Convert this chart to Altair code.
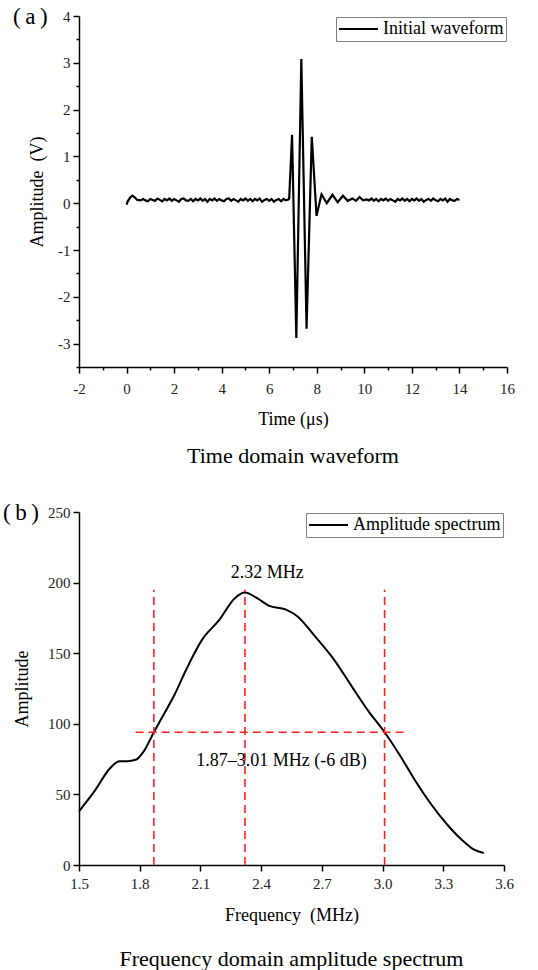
import altair as alt
import pandas as pd

# ---------------- data: time-domain waveform ----------------
wave_t = [
    0.00, 0.05, 0.15, 0.25, 0.35, 0.45,
    0.6, 0.7, 0.8, 0.9, 1.0, 1.1, 1.2, 1.3, 1.4, 1.5, 1.6, 1.7, 1.8, 1.9,
    2.0, 2.1, 2.2, 2.3, 2.4, 2.5, 2.6, 2.7, 2.8, 2.9,
    3.0, 3.1, 3.2, 3.3, 3.4, 3.5, 3.6, 3.7, 3.8, 3.9,
    4.0, 4.1, 4.2, 4.3, 4.4, 4.5, 4.6, 4.7, 4.8, 4.9,
    5.0, 5.1, 5.2, 5.3, 5.4, 5.5, 5.6, 5.7, 5.8, 5.9,
    6.0, 6.1, 6.2, 6.3, 6.4, 6.5, 6.6, 6.7, 6.8,
    6.84, 6.96, 7.14, 7.35, 7.57, 7.79, 7.99,
    8.2, 8.42, 8.66, 8.88, 9.1, 9.3, 9.5, 9.65, 9.8, 9.95, 10.1,
    10.2, 10.3, 10.4, 10.5, 10.6, 10.7, 10.8, 10.9, 11.0, 11.1,
    11.2, 11.3, 11.4, 11.5, 11.6, 11.7, 11.8, 11.9, 12.0, 12.1,
    12.2, 12.3, 12.4, 12.5, 12.6, 12.7, 12.8, 12.9, 13.0, 13.1,
    13.2, 13.3, 13.4, 13.5, 13.6, 13.7, 13.8, 13.9, 14.0,
]
wave_v = [
    -0.03, 0.04, 0.12, 0.16, 0.12, 0.07,
    0.06, 0.09, 0.06, 0.04, 0.09, 0.07, 0.05, 0.10, 0.07, 0.04, 0.09, 0.06, 0.10, 0.05,
    0.09, 0.06, 0.03, 0.09, 0.10, 0.06, 0.05, 0.09, 0.04, 0.09,
    0.06, 0.10, 0.05, 0.09, 0.03, 0.09, 0.06, 0.10, 0.05, 0.09,
    0.06, 0.04, 0.09, 0.10, 0.05, 0.09, 0.06, 0.03, 0.09, 0.06,
    0.10, 0.05, 0.09, 0.04, 0.09, 0.06, 0.10, 0.03, 0.07, 0.09,
    0.05, 0.09, 0.03, 0.07, 0.09, 0.04, 0.09, 0.06, 0.08,
    0.10, 1.46, -2.88, 3.08, -2.68, 1.42, -0.27,
    0.19, 0.00, 0.18, 0.02, 0.16, 0.05, 0.10, 0.05, 0.13, 0.06, 0.08,
    0.06, 0.10, 0.05, 0.09, 0.04, 0.09, 0.06, 0.10, 0.05, 0.09,
    0.06, 0.03, 0.09, 0.06, 0.10, 0.05, 0.09, 0.04, 0.09, 0.06,
    0.10, 0.05, 0.09, 0.03, 0.07, 0.09, 0.05, 0.10, 0.06, 0.04,
    0.09, 0.06, 0.10, 0.03, 0.09, 0.06, 0.05, 0.09, 0.07,
]
wave_name = "Initial waveform"

# ---------------- data: amplitude spectrum ----------------
freq = [1.50, 1.58, 1.65, 1.70, 1.74, 1.78, 1.82, 1.87, 1.92, 1.97, 2.03, 2.11,
        2.19, 2.27, 2.32, 2.38, 2.44, 2.52, 2.58, 2.66, 2.76, 2.85, 2.93, 3.01,
        3.08, 3.16, 3.24, 3.32, 3.39, 3.45, 3.50]
amp = [38, 53, 68, 73.5, 73.5, 74.5, 80.5, 94, 107, 120, 138.5, 160,
       173, 189, 193, 189, 183.5, 181, 176, 163, 145.5, 126, 109, 94,
       79, 60, 43, 28.5, 18, 11, 8.5]
spec_name = "Amplitude spectrum"

marker_freqs = [1.87, 2.32, 3.01]
marker_bottom = [0, 0, 0]
marker_top = [195, 195, 195]
half_level = [94]
half_x_from = [1.78]
half_x_to = [3.13]

peak_label = ["2.32 MHz"]
peak_label_f = [2.43]
peak_label_a = [207]
band_label = ["1.87\u20133.01 MHz (-6 dB)"]
band_label_f = [2.50]
band_label_a = [74]

# tick values
t_ticks = [-2, -1, 0, 1, 2, 3, 4, 5, 6, 7, 8, 9, 10, 11, 12, 13, 14, 15, 16]
v_ticks = [-3.5, -3, -2.5, -2, -1.5, -1, -0.5, 0, 0.5, 1, 1.5, 2, 2.5, 3, 3.5, 4]
f_ticks = [1.5, 1.65, 1.8, 1.95, 2.1, 2.25, 2.4, 2.55, 2.7, 2.85, 3.0, 3.15, 3.3, 3.45, 3.6]
a_ticks = [0, 25, 50, 75, 100, 125, 150, 175, 200, 225, 250]

SERIF = "Liberation Serif"
RED = "#ff1f1f"

wave_df = pd.DataFrame({"t": wave_t, "v": wave_v, "series": wave_name})
spec_df = pd.DataFrame({"f": freq, "a": amp, "series": spec_name})


def axis(values, major_test, label_expr, title, **kw):
    return alt.Axis(
        values=values,
        tickSize={"condition": {"test": major_test, "value": 6}, "value": 3},
        labelExpr=label_expr,
        title=title,
        grid=False,
        labelFlush=False,
        labelOverlap=False,
        **kw,
    )


def legend():
    return alt.Legend(
        title=None, orient="top-right", offset=1, padding=2,
        strokeColor="#808080", fillColor="white",
        symbolType="stroke", symbolSize=1521, symbolStrokeWidth=2,
        clipHeight=20,
        labelFont=SERIF, labelFontSize=18, labelColor="black",
        labelOffset=4, labelLimit=400, cornerRadius=0,
    )


# ---------------- panel (a) ----------------
wave_line = alt.Chart(wave_df).mark_line(strokeWidth=2.2, strokeJoin="miter").encode(
    x=alt.X("t:Q", scale=alt.Scale(domain=[-2, 16], nice=False, zero=False),
            axis=axis(t_ticks, "datum.value % 2 === 0",
                      "datum.value % 2 === 0 ? '' + datum.value : ''", "Time (\u03bcs)",
                      labelPadding=8, titlePadding=14)),
    y=alt.Y("v:Q", scale=alt.Scale(domain=[-3.5, 4], nice=False, zero=False),
            axis=axis(v_ticks, "datum.value % 1 === 0",
                      "datum.value % 1 === 0 ? '' + datum.value : ''", "Amplitude\u00a0 (V)",
                      labelPadding=3, titlePadding=11)),
    color=alt.Color("series:N", scale=alt.Scale(range=["black"]), legend=legend()),
)
a_label = alt.Chart(pd.DataFrame({"lab": ["(\u2009a\u2009)"]})).mark_text(
    font=SERIF, fontSize=23, align="left", baseline="middle", color="black"
).encode(x=alt.value(-66), y=alt.value(1), text="lab:N")

top = alt.layer(wave_line, a_label).properties(
    width=428, height=351,
    title=alt.TitleParams("Time domain waveform", orient="bottom", font=SERIF,
                          fontSize=22, fontWeight="normal", color="black", offset=18),
)

# ---------------- panel (b) ----------------
spec_line = alt.Chart(spec_df).mark_line(strokeWidth=2, interpolate="monotone").encode(
    x=alt.X("f:Q", scale=alt.Scale(domain=[1.5, 3.6], nice=False, zero=False),
            axis=axis(f_ticks, "abs(datum.value/0.3 - round(datum.value/0.3)) < 0.01",
                      "abs(datum.value/0.3 - round(datum.value/0.3)) < 0.01 ? format(datum.value, '.1f') : ''",
                      "Frequency\u00a0 (MHz)", labelPadding=5, titlePadding=15)),
    y=alt.Y("a:Q", scale=alt.Scale(domain=[0, 250], nice=False),
            axis=axis(a_ticks, "datum.value % 50 === 0",
                      "datum.value % 50 === 0 ? '' + datum.value : ''", "Amplitude",
                      labelPadding=3, titlePadding=16)),
    color=alt.Color("series:N", scale=alt.Scale(range=["black"]), legend=legend()),
)
vlines = alt.Chart(pd.DataFrame({"f": marker_freqs, "lo": marker_bottom, "top": marker_top})).mark_rule(
    color=RED, strokeWidth=1.6, strokeDash=[8, 5]
).encode(x="f:Q", y="lo:Q", y2="top:Q")
hline = alt.Chart(pd.DataFrame({"a": half_level, "f1": half_x_from, "f2": half_x_to})).mark_rule(
    color=RED, strokeWidth=1.6, strokeDash=[8, 5]
).encode(y="a:Q", x="f1:Q", x2="f2:Q")
peak_text = alt.Chart(pd.DataFrame({"f": peak_label_f, "a": peak_label_a, "lab": peak_label})).mark_text(
    font=SERIF, fontSize=18, color="black", align="center", baseline="middle"
).encode(x="f:Q", y="a:Q", text="lab:N")
band_text = alt.Chart(pd.DataFrame({"f": band_label_f, "a": band_label_a, "lab": band_label})).mark_text(
    font=SERIF, fontSize=18, color="black", align="center", baseline="middle"
).encode(x="f:Q", y="a:Q", text="lab:N")
b_label = alt.Chart(pd.DataFrame({"lab": ["(\u2009b\u2009)"]})).mark_text(
    font=SERIF, fontSize=23, align="left", baseline="middle", color="black"
).encode(x=alt.value(-76), y=alt.value(1), text="lab:N")

bottom = alt.layer(spec_line, vlines, hline, peak_text, band_text, b_label).properties(
    width=425, height=353,
    title=alt.TitleParams("Frequency domain amplitude spectrum", orient="bottom", font=SERIF,
                          fontSize=22, fontWeight="normal", color="black", offset=25),
)

chart = alt.vconcat(top, bottom, spacing=35).resolve_scale(color="independent").properties(
    padding={"top": 6, "left": 3, "right": 8, "bottom": 0}
).configure_view(stroke=None).configure_axis(
    domainColor="black", domainWidth=1.5, tickColor="black", tickWidth=1.5,
    labelFont=SERIF, labelFontSize=15, labelColor="#222222",
    titleFont=SERIF, titleFontSize=18, titleFontWeight="normal", titleColor="black",
)

chart.save("out.html", embed_options={"renderer": "svg", "actions": False})
